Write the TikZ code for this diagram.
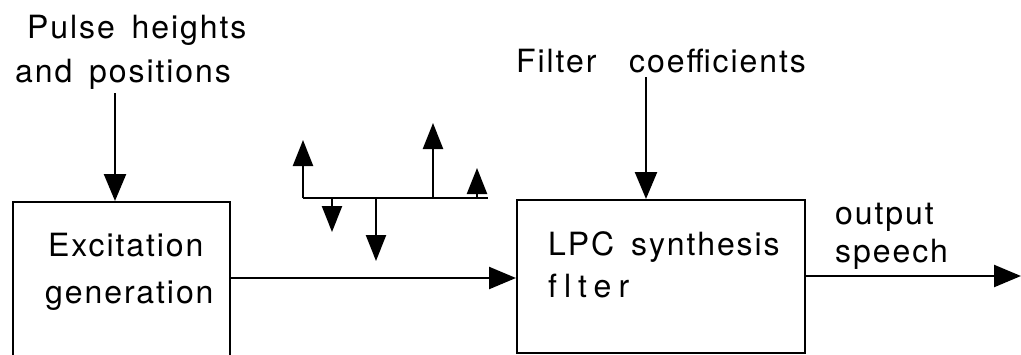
\documentclass[tikz,border=0pt]{standalone}
\usepackage{fontspec}
\setmainfont{TeX Gyre Heros}
\newfontfamily\lbl[LetterSpace=6]{TeX Gyre Heros}
\newfontfamily\lblwide[LetterSpace=22,Ligatures=NoCommon]{TeX Gyre Heros}
\usetikzlibrary{arrows.meta}
\begin{document}
\begin{tikzpicture}[x=1pt,y=-1pt,
  ln/.style={line width=2.4pt},
  arr/.style={ln,-{Triangle[length=27pt,width=22pt]}},
  sarr/.style={ln,-{Triangle[length=26pt,width=20pt]}},
  txt/.style={anchor=base west,inner sep=0pt,font=\lbl\fontsize{32}{32}\selectfont},
  blk/.style={draw,line width=2.4pt,anchor=north west,inner sep=0pt}]
\useasboundingbox (0,0) rectangle (1021,354);
\clip (0,0) rectangle (1021,354);
% blocks
\node[blk,minimum width=217pt,minimum height=170pt] (exc) at (12,201) {};
\node[blk,minimum width=288pt,minimum height=153pt] (lpc) at (516,199) {};
% texts
\node[txt] (t1) at (27,38) {Pulse\hspace{6pt} heights};
\node[txt] (t2) at (15,82) {and\hspace{6pt} positions};
\node[txt] (t3) at (516,72) {Filter\hspace{22pt} coefficients};
\node[txt] (t4) at (48,256) {Excitation};
\node[txt] (t5) at (45,303) {generation};
\node[txt] (t6) at (548,255) {LPC\hspace{6pt} synthesis};
\node[txt,font=\lblwide\fontsize{32}{32}\selectfont] (t7) at (548,297) {f\kern7pt lter};
\node[txt] (t8) at (835,224) {output};
\node[txt] (t9) at (835,262) {speech};
% input arrows
\coordinate (pin) at (115,93);
\coordinate (fin) at (646,77);
\draw[arr] (pin) -- (pin |- exc.north);
\draw[arr] (fin) -- (fin |- lpc.north);
% main path
\coordinate (mid) at (0,278);
\draw[arr] (exc.east |- mid) -- (lpc.west |- mid);
\coordinate (out) at (1021,276);
\draw[arr] (lpc.east |- out) -- (out);
% pulse train
\coordinate (b0) at (303,198);
\coordinate (b1) at (488,198);
\draw[ln] (b0) -- (b1);
\coordinate (u1) at (303,140);
\coordinate (u2) at (433,123);
\coordinate (u3) at (477,168);
\coordinate (d1) at (332,232);
\coordinate (d2) at (376,261);
\draw[sarr] (b0) -- (u1);
\draw[sarr] (u2 |- b0) -- (u2);
\draw[sarr] (u3 |- b0) -- (u3);
\draw[sarr] (d1 |- b0) -- (d1);
\draw[sarr] (d2 |- b0) -- (d2);
\end{tikzpicture}
\end{document}
